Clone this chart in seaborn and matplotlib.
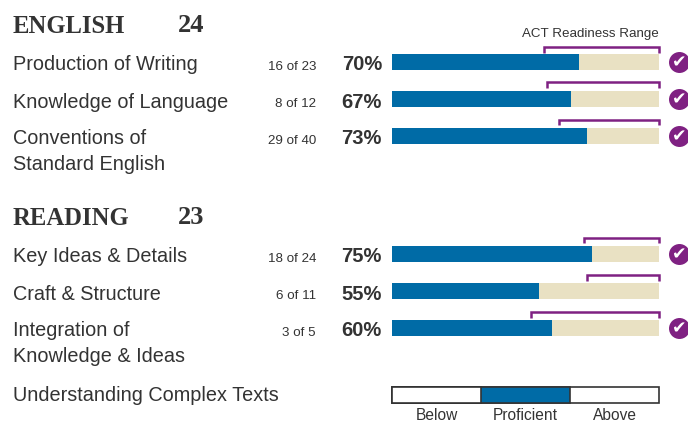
import matplotlib
matplotlib.use("Agg")
import matplotlib.pyplot as plt
import seaborn as sns
import pandas as pd

W, H = 688, 422
BLUE, BEIGE, PURPLE, INK = "#006BA6", "#E9E1C3", "#7F2182", "#333333"

english_title, english_score = "ENGLISH", "24"
english_labels = ["Production of Writing", "Knowledge of Language", "Conventions of\nStandard English"]
english_counts = ["16 of 23", "8 of 12", "29 of 40"]
english_pct = [70, 67, 73]
english_range_start = [57, 58, 62.5]
english_ready = [True, True, True]

reading_title, reading_score = "READING", "23"
reading_labels = ["Key Ideas & Details", "Craft & Structure", "Integration of\nKnowledge & Ideas"]
reading_counts = ["18 of 24", "6 of 11", "3 of 5"]
reading_pct = [75, 55, 60]
reading_range_start = [72, 73, 52]
reading_ready = [True, False, True]

complex_label = "Understanding Complex Texts"
complex_levels = ["Below", "Proficient", "Above"]
complex_colors = ["white", BLUE, "white"]
complex_edges = [1, 2, 3]

sns.set_theme(style="white")
plt.rcParams["font.family"] = ["Liberation Sans", "DejaVu Sans"]

fig = plt.figure(figsize=(W / 100, H / 100), dpi=100, facecolor="white")


def px_text(x, y, s, **kw):
    kw.setdefault("color", INK)
    kw.setdefault("va", "baseline")
    kw.setdefault("fontsize", 14.3)
    fig.text(x / W, 1 - y / H, s, **kw)


def section(first_center, title, score, labels, counts, pct, starts, ready, tops):
    step = 37
    top_px = first_center - step / 2
    height = step * len(labels)
    ax = fig.add_axes([392 / W, 1 - (top_px + height) / H, 267 / W, height / H])
    df = pd.DataFrame({"label": labels, "pct": pct, "full": [100] * len(labels)})
    sns.barplot(data=df, y="label", x="full", color=BEIGE, width=16 / step, saturation=1,
                linewidth=0, ax=ax)
    sns.barplot(data=df, y="label", x="pct", color=BLUE, width=16 / step, saturation=1,
                linewidth=0, ax=ax)
    ax.set_xlim(0, 100)
    ax.set_ylim(len(labels) - 0.5, -0.5)
    ax.axis("off")
    for i, lab in enumerate(labels):
        base = first_center + i * step + 8.5
        for k, line in enumerate(lab.split("\n")):
            px_text(13, base + k * 26, line)
        px_text(316, base - 0.5, counts[i], fontsize=9.6, ha="right")
        px_text(382, base, f"{pct[i]}%", fontsize=14.5, fontweight="bold", ha="right")
        t = i - tops[i] / step
        b = t + 5.5 / step
        ax.plot([starts[i], starts[i], 100, 100], [b, t, t, b], color=PURPLE, lw=1.8,
                solid_joinstyle="miter", solid_capstyle="butt", clip_on=False)
        if ready[i]:
            cx = (679 - 392) / 2.67
            ax.scatter([cx], [i], s=228, color=PURPLE, linewidths=0, clip_on=False, zorder=4)
            ax.text(cx, i + 0.01, "\u2714", color="white", fontsize=12.5, ha="center", va="center",
                    family="DejaVu Sans", fontweight="bold", zorder=5)
    px_text(13, first_center - 29, title, family="Liberation Serif", fontweight="bold", fontsize=17.7)
    px_text(178, first_center - 30, score, family="Liberation Serif", fontweight="bold", fontsize=19)


section(62, english_title, english_score, english_labels, english_counts, english_pct,
        english_range_start, english_ready, [14.5, 16.5, 16])
section(254, reading_title, reading_score, reading_labels, reading_counts, reading_pct,
        reading_range_start, reading_ready, [16.5, 16, 16])

px_text(522, 37, "ACT Readiness Range", fontsize=9.6, ha="left")

ax = fig.add_axes([392 / W, 1 - 403 / H, 267 / W, 16 / H])
for end, col in sorted(zip(complex_edges, complex_colors), reverse=True):
    sns.barplot(x=[end], y=[complex_label], color=col, width=1, saturation=1,
                edgecolor="#333333", linewidth=1.2, ax=ax)
ax.set_xlim(0, 3)
ax.set_ylim(0.5, -0.5)
ax.axis("off")
for b in ax.patches:
    b.set_clip_on(False)
px_text(13, 401, complex_label)
for i, lev in enumerate(complex_levels):
    px_text(392 + 267 * (i + 0.5) / 3, 419.5, lev, fontsize=11.2, ha="center")

fig.savefig("out.png", dpi=100, facecolor="white")
